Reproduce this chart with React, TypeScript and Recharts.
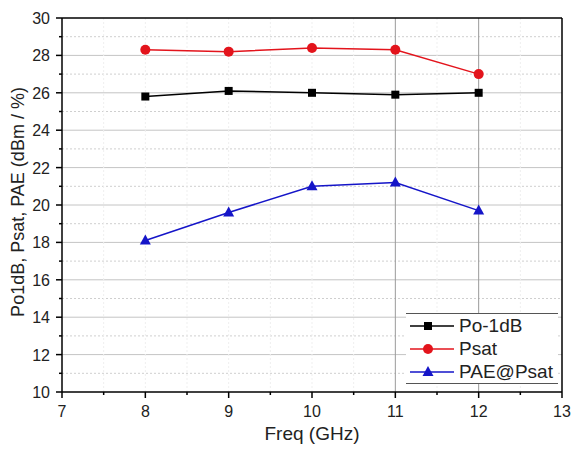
import React from 'react';
import { LineChart, Line, XAxis, YAxis, ReferenceLine } from 'recharts';

const freqs = [8, 9, 10, 11, 12];
const po1dB = [25.8, 26.1, 26.0, 25.9, 26.0];
const psat = [28.3, 28.2, 28.4, 28.3, 27.0];
const pae = [18.1, 19.6, 21.0, 21.2, 19.7];

const xTicks = [7, 7.5, 8, 8.5, 9, 9.5, 10, 10.5, 11, 11.5, 12, 12.5, 13];
const yTicks = [10, 11, 12, 13, 14, 15, 16, 17, 18, 19, 20, 21, 22, 23, 24, 25, 26, 27, 28, 29, 30];
const yMajorGrid = [12, 14, 16, 18, 20, 22, 24, 26, 28];
const yMinorGrid = [11, 13, 15, 17, 19, 21, 23, 25, 27, 29];
const xFaintGrid = [7.5, 8, 8.5, 9, 9.5, 10, 10.5, 11.5, 12.5];
const xDarkGrid = [11, 12];

const seriesNames = ['Po-1dB', 'Psat', 'PAE@Psat'];
const seriesColors = ['#000000', '#e3141c', '#1515c8'];

const data = freqs.map((f, i) => ({ freq: f, po1dB: po1dB[i], psat: psat[i], pae: pae[i] }));

const FONT = 'Liberation Sans, Arial, sans-serif';

const XTick = (props: any) => {
  const { x, y, payload } = props;
  const v = payload.value;
  const major = Number.isInteger(v);
  return (
    <g>
      <line x1={x} y1={y} x2={x} y2={y + (major ? 6 : 3)} stroke="#000" strokeWidth={1.5} />
      {major && (
        <text x={x} y={y + 25} textAnchor="middle" fontSize={16} fontFamily={FONT} fill="#222">
          {v}
        </text>
      )}
    </g>
  );
};

const YTick = (props: any) => {
  const { x, y, payload } = props;
  const v = payload.value;
  const major = v % 2 === 0;
  return (
    <g>
      <line x1={x} y1={y} x2={x - (major ? 6 : 3)} y2={y} stroke="#000" strokeWidth={1.5} />
      {major && (
        <text x={x - 12} y={y + 6} textAnchor="end" fontSize={16} fontFamily={FONT} fill="#222">
          {v}
        </text>
      )}
    </g>
  );
};

const Square = (props: any) => {
  const { cx, cy, index } = props;
  return <rect key={`s${index}`} x={cx - 4} y={cy - 4} width={8} height={8} fill={seriesColors[0]} />;
};
const Circle = (props: any) => {
  const { cx, cy, index } = props;
  return <circle key={`c${index}`} cx={cx} cy={cy} r={5} fill={seriesColors[1]} />;
};
const Tri = (props: any) => {
  const { cx, cy, index } = props;
  return (
    <polygon
      key={`t${index}`}
      points={`${cx},${cy - 6} ${cx - 5.5},${cy + 4} ${cx + 5.5},${cy + 4}`}
      fill={seriesColors[2]}
    />
  );
};

const markerIcon = (i: number) => {
  if (i === 0) return <rect x={18} y={6} width={8} height={8} fill={seriesColors[0]} />;
  if (i === 1) return <circle cx={22} cy={10} r={5} fill={seriesColors[1]} />;
  return <polygon points="22,4 16.5,14 27.5,14" fill={seriesColors[2]} />;
};

const LegendBox = () => (
  <div
    style={{
      position: 'absolute',
      left: 406,
      top: 313,
      width: 152,
      height: 71,
      borderTop: '1px solid #555',
      borderBottom: '1px solid #555',
      boxSizing: 'border-box',
      background: '#fff',
      fontFamily: FONT,
      paddingTop: 0,
    }}
  >
    {seriesNames.map((n, i) => (
      <div key={n} style={{ display: 'flex', alignItems: 'center', height: 23 }}>
        <svg width={53} height={20} style={{ display: 'block' }}>
          <line x1={4} y1={10} x2={48} y2={10} stroke={seriesColors[i]} strokeWidth={1.5} />
          {markerIcon(i)}
        </svg>
        <span style={{ fontSize: 19, color: '#222', lineHeight: '20px' }}>{n}</span>
      </div>
    ))}
  </div>
);

export default function App() {
  return (
    <div style={{ position: 'absolute', left: 0, top: 0, width: 571, height: 451, background: '#fff' }}>
      <LineChart width={571} height={451} data={data} margin={{ top: 18, right: 9, bottom: 0, left: 0 }}>
        {yMinorGrid.map((v) => (
          <ReferenceLine key={`ym${v}`} y={v} stroke="#cfcfcf" strokeDasharray="2 2" />
        ))}
        {yMajorGrid.map((v) => (
          <ReferenceLine key={`yM${v}`} y={v} stroke="#c4c4c4" />
        ))}
        {xFaintGrid.map((v) => (
          <ReferenceLine key={`xf${v}`} x={v} stroke="#efefef" strokeDasharray="2 2" />
        ))}
        {xDarkGrid.map((v) => (
          <ReferenceLine key={`xd${v}`} x={v} stroke="#9a9a9a" />
        ))}
        <ReferenceLine y={30} stroke="#000" strokeWidth={1.5} />
        <ReferenceLine x={13} stroke="#000" strokeWidth={1.5} />
        <XAxis
          dataKey="freq"
          type="number"
          domain={[7, 13]}
          ticks={xTicks}
          interval={0}
          height={59}
          tickSize={0}
          tickMargin={0}
          tickLine={false}
          tick={<XTick />}
          axisLine={{ stroke: '#000', strokeWidth: 1.5 }}
          label={{
            content: () => (
              <text x={312} y={440} textAnchor="middle" fontSize={19} fontFamily={FONT} fill="#222">
                Freq (GHz)
              </text>
            ),
          }}
        />
        <YAxis
          type="number"
          domain={[10, 30]}
          ticks={yTicks}
          interval={0}
          width={62}
          tickSize={0}
          tickMargin={0}
          tickLine={false}
          tick={<YTick />}
          axisLine={{ stroke: '#000', strokeWidth: 1.5 }}
          label={{
            content: () => (
              <text
                x={0}
                y={0}
                transform="translate(24,202) rotate(-90)"
                textAnchor="middle"
                fontSize={18}
                fontFamily={FONT}
                fill="#222"
              >
                Po1dB, Psat, PAE (dBm / %)
              </text>
            ),
          }}
        />
        <Line dataKey="po1dB" name={seriesNames[0]} stroke={seriesColors[0]} strokeWidth={1.5} dot={<Square />} isAnimationActive={false} />
        <Line dataKey="psat" name={seriesNames[1]} stroke={seriesColors[1]} strokeWidth={1.5} dot={<Circle />} isAnimationActive={false} />
        <Line dataKey="pae" name={seriesNames[2]} stroke={seriesColors[2]} strokeWidth={1.5} dot={<Tri />} isAnimationActive={false} />
      </LineChart>
      <LegendBox />
    </div>
  );
}
